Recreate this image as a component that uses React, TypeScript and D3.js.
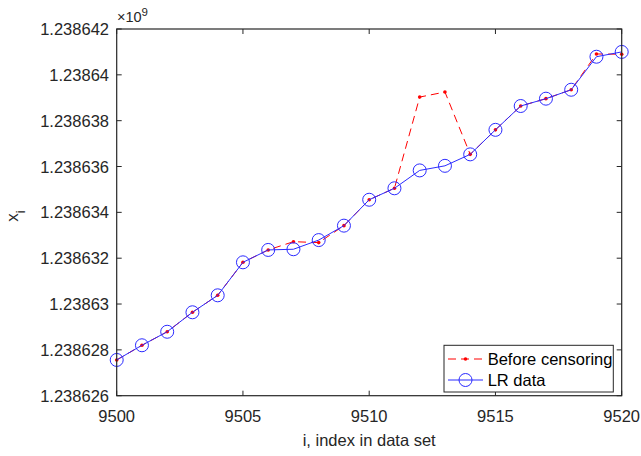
import React from "react";
import * as d3 from "d3";

const width = 641;
const height = 456;
const margin = { left: 116.7, right: 19.3, top: 29, bottom: 60.3 };

// x positions (index in data set)
const indices = [9500, 9501, 9502, 9503, 9504, 9505, 9506, 9507, 9508, 9509, 9510,
  9511, 9512, 9513, 9514, 9515, 9516, 9517, 9518, 9519, 9520];
// values in thousands (x 10^3), axis shown as x 10^9
const beforeCensoring = [1238627.56, 1238628.2, 1238628.79, 1238629.64, 1238630.38, 1238631.82,
  1238632.36, 1238632.72, 1238632.68, 1238633.42, 1238634.55, 1238635.05, 1238639.03,
  1238639.25, 1238636.53, 1238637.6, 1238638.64, 1238638.96, 1238639.35, 1238640.91, 1238640.9];
const lrData = [1238627.56, 1238628.2, 1238628.79, 1238629.64, 1238630.38, 1238631.82,
  1238632.36, 1238632.39, 1238632.79, 1238633.42, 1238634.55, 1238635.05, 1238635.83,
  1238636.03, 1238636.53, 1238637.6, 1238638.64, 1238638.96, 1238639.35, 1238640.79, 1238641.0];
const xTicks = [9500, 9505, 9510, 9515, 9520];
const yTicks = [1238626, 1238628, 1238630, 1238632, 1238634, 1238636, 1238638, 1238640, 1238642];
const yTickLabels = ["1.238626", "1.238628", "1.23863", "1.238632", "1.238634", "1.238636",
  "1.238638", "1.23864", "1.238642"];

const axisColor = "#262626";
const font = "'Liberation Sans', Arial, sans-serif";

const x = d3.scaleLinear().domain([9500, 9520]).range([margin.left, width - margin.right]);
const y = d3.scaleLinear().domain([1238626, 1238642]).range([height - margin.bottom, margin.top]);

const line = d3
  .line<number>()
  .x((_, i) => x(indices[i]))
  .y((d) => y(d));

const App = () => {
  const x0 = margin.left;
  const x1 = width - margin.right;
  const y0 = height - margin.bottom;
  const y1 = margin.top;
  const legend = { x: 444, y: 345.3, w: 169.3, h: 46.7 };
  return (
    <svg width={width} height={height} style={{ position: "absolute", left: 0, top: 0 }}>
      <rect width={width} height={height} fill="#fff" />
      {/* data */}
      <path d={line(beforeCensoring) || ""} fill="none" stroke="#ff0000" strokeWidth={1}
        strokeDasharray="8,5" />
      {beforeCensoring.map((v, i) => (
        <circle key={"r" + i} cx={x(indices[i])} cy={y(v)} r={1.8} fill="#ff0000" />
      ))}
      <path d={line(lrData) || ""} fill="none" stroke="#2b2bff" strokeWidth={1} />
      {lrData.map((v, i) => (
        <circle key={"b" + i} cx={x(indices[i])} cy={y(v)} r={6.5} fill="none"
          stroke="#2b2bff" strokeWidth={1} />
      ))}
      {/* axes box */}
      <rect x={x0} y={y1} width={x1 - x0} height={y0 - y1} fill="none" stroke={axisColor}
        strokeWidth={1.2} />
      {xTicks.map((t) => (
        <g key={"xt" + t}>
          <line x1={x(t)} x2={x(t)} y1={y0} y2={y0 - 5} stroke={axisColor} />
          <line x1={x(t)} x2={x(t)} y1={y1} y2={y1 + 5} stroke={axisColor} />
          <text x={x(t)} y={421.5} textAnchor="middle" fontFamily={font} fontSize={16.5}
            fill={axisColor}>{t}</text>
        </g>
      ))}
      {yTicks.map((t, i) => (
        <g key={"yt" + t}>
          <line x1={x0} x2={x0 + 5} y1={y(t)} y2={y(t)} stroke={axisColor} />
          <line x1={x1} x2={x1 - 5} y1={y(t)} y2={y(t)} stroke={axisColor} />
          <text x={109} y={y(t) + 6} textAnchor="end" fontFamily={font} fontSize={16.5}
            fill={axisColor}>{yTickLabels[i]}</text>
        </g>
      ))}
      <text x={117} y={22} fontFamily={font} fontSize={14.5} fill={axisColor}>
        {"\u00d710"}
        <tspan dy={-6} fontSize={11.5}>9</tspan>
      </text>
      <text x={(x0 + x1) / 2} y={446} textAnchor="middle" fontFamily={font} fontSize={16.5}
        fill={axisColor}>i, index in data set</text>
      <text transform="translate(18,216) rotate(-90)" textAnchor="middle" fontFamily={font}
        fontSize={17} fill={axisColor}>
        x<tspan dy={7} fontSize={13}>i</tspan>
      </text>
      {/* legend */}
      <rect x={legend.x} y={legend.y} width={legend.w} height={legend.h} fill="#fff"
        stroke={axisColor} strokeWidth={1} />
      <line x1={448} x2={483} y1={359} y2={359} stroke="#ff0000" strokeDasharray="8,5" />
      <circle cx={465.5} cy={359} r={1.8} fill="#ff0000" />
      <text x={487.7} y={365} fontFamily={font} fontSize={16.5} fill="#000">Before censoring</text>
      <line x1={448} x2={483} y1={380} y2={380} stroke="#2b2bff" />
      <circle cx={465.5} cy={380} r={6.5} fill="none" stroke="#2b2bff" />
      <text x={487.7} y={386} fontFamily={font} fontSize={16.5} fill="#000">LR data</text>
    </svg>
  );
};

export default App;
